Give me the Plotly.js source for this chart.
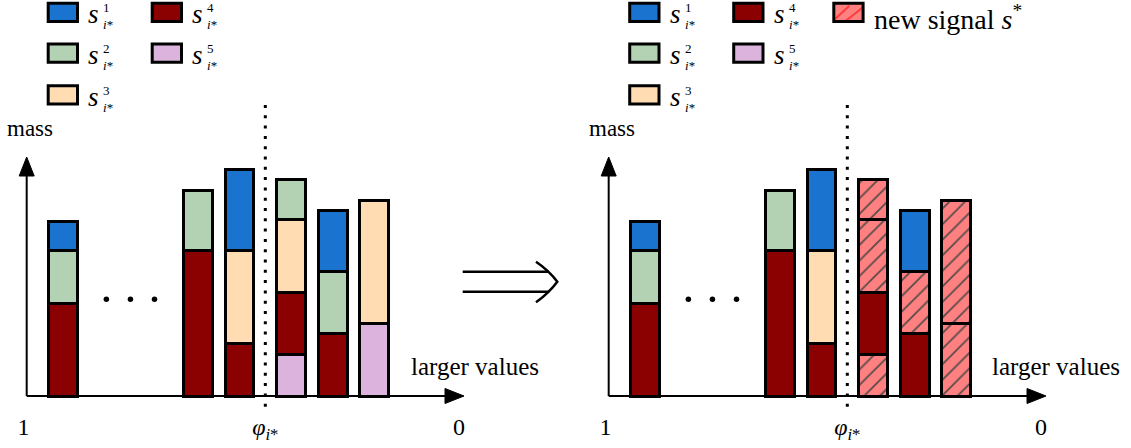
<!DOCTYPE html>
<html><head><meta charset="utf-8">
<script src="https://cdn.plot.ly/plotly-3.0.1.min.js"></script>
<style>html,body{margin:0;padding:0;background:#fff;overflow:hidden}</style>
</head><body><div id="chart" style="width:1131px;height:448px"></div>
<script>
// ================= DATA =================
const seriesIndex  = [1, 2, 3, 4, 5];                       // s^k_{i*}
const seriesColors = ['#1a74cf', '#b3d2b3', '#ffdcb1', '#8b0000', '#dbb3dc'];
const barPos = [0, 3.25, 4.25, 5.5, 6.5, 7.5];              // positions along "value" axis
const phiPos = 4.875;                                        // threshold phi_{i*}
const s1 = [2.9, null, 8.1, null, 6.1, null];
const s2 = [5.3, 6.0, null, 4.0, 6.2, null];
const s3 = [null, null, 9.3, 7.3, null, 12.3];
const s4 = [9.3, 14.6, 5.3, 6.2, 6.3, null];
const s5 = [null, null, null, 4.2, null, 7.3];
const newSignalReplaces = [2, 3, 5];                         // replaced by s* right of phi
const tickVals = [-0.95, phiPos, 9.54];
const tickText = ['1', '<i>φ</i><sub><i>i</i>*</sub>', '0'];
const legendColumns = [[0, 1, 2], [3, 4]];
const newSignalLabel = 'new signal <i>s</i><sup>*</sup>';

// ================= LAYOUT CONSTANTS =================
const W = 1131, H = 448;
const U = 41.5;                 // px per x unit
const ORIGIN = [63, 645];       // px of barPos 0 in left / right panel
const BASE = 396, M = 10;       // baseline px, px per mass unit
const SERIF = 'Liberation Serif, Times New Roman, serif';
const HATCH_BG = '#ff8080', HATCH_FG = '#ff3b3b';
const axisX0 = -0.875, arrowTip = 9.663, arrowLen = 19, arrowHalf = 7.5;
const yAxisTop = 23.9;
const seriesValues = [s1, s2, s3, s4, s5];
const stackOrder = [4, 3, 2, 1, 0];

const px2x = p => p / W, py2y = p => 1 - p / H;

// ================= TRACES =================
const traces = [];
['x', 'x2'].forEach((xa, pi) => {
  const isRight = pi === 1;
  stackOrder.forEach(k => {
    const repl = isRight && newSignalReplaces.includes(seriesIndex[k]);
    traces.push({
      type: 'bar', x: barPos, y: seriesValues[k], xaxis: xa, yaxis: 'y',
      name: 's' + seriesIndex[k], width: 0.69, hoverinfo: 'skip', showlegend: false,
      marker: {
        color: barPos.map(p => (repl && p > phiPos) ? HATCH_BG : seriesColors[k]),
        line: {color: '#000', width: 3},
        pattern: {
          shape: barPos.map(p => (repl && p > phiPos) ? '/' : ''),
          fillmode: 'overlay', fgcolor: HATCH_FG, fgopacity: 0.9, size: 11, solidity: 0.16
        }
      }
    });
  });
  // threshold line
  traces.push({type: 'scatter', mode: 'lines', x: [phiPos, phiPos], y: [29.1, -1.4],
    xaxis: xa, yaxis: 'y', cliponaxis: false, hoverinfo: 'skip', showlegend: false,
    line: {color: '#000', width: 3, dash: '3px,7.3px'}});
  // ellipsis between first bar and the rest
  const c = (barPos[0] + barPos[1]) / 2;
  traces.push({type: 'scatter', mode: 'markers', x: [c - 0.58, c, c + 0.58], y: [9.67, 9.67, 9.67],
    xaxis: xa, yaxis: 'y', hoverinfo: 'skip', showlegend: false,
    marker: {color: '#000', size: 5.5}});
});

// ================= SHAPES & ANNOTATIONS =================
const shapes = [], annotations = [];
function txt(px, baseline, text, size, extra) {
  annotations.push(Object.assign({xref: 'paper', yref: 'paper', x: px2x(px),
    y: py2y(baseline - 0.3375 * size), xanchor: 'left', yanchor: 'middle',
    text: text, showarrow: false, borderpad: 0, borderwidth: 0, align: 'left',
    font: {family: SERIF, size: size, color: '#000'}}, extra || {}));
}
function rect(x0, y0, x1, y1, fill, lw) {
  shapes.push({type: 'rect', xref: 'paper', yref: 'paper', x0: px2x(x0), x1: px2x(x1),
    y0: py2y(y1), y1: py2y(y0), fillcolor: fill, line: {color: '#000', width: lw}});
}

['x', 'x2'].forEach((xa, pi) => {
  const off = pi * 581.5;
  // axes
  shapes.push({type: 'line', xref: xa, yref: 'y', x0: axisX0, x1: arrowTip - arrowLen / U, y0: 0, y1: 0,
    line: {color: '#000', width: 2}});
  shapes.push({type: 'line', xref: xa, yref: 'y', x0: axisX0, x1: axisX0, y0: 0, y1: yAxisTop - arrowLen / M,
    line: {color: '#000', width: 2}});
  shapes.push({type: 'path', xref: xa, yref: 'y', xsizemode: 'pixel', ysizemode: 'pixel',
    xanchor: arrowTip, yanchor: 0,
    path: `M0,0 L${-arrowLen},${arrowHalf} L${-arrowLen},${-arrowHalf} Z`,
    fillcolor: '#000', line: {color: '#000', width: 1}});
  shapes.push({type: 'path', xref: xa, yref: 'y', xsizemode: 'pixel', ysizemode: 'pixel',
    xanchor: axisX0, yanchor: yAxisTop,
    path: `M0,0 L${-arrowHalf},${-arrowLen} L${arrowHalf},${-arrowLen} Z`,
    fillcolor: '#000', line: {color: '#000', width: 1}});
  // text labels
  txt(7 + off, 136, 'mass', 23);
  txt(410.5 + off, 375, 'larger values', 25);
  // legend
  const colLeft = [46.7, 150.7], rowTop = [1.7, 42.6, 84.3];
  legendColumns.forEach((col, ci) => {
    col.forEach((k, ri) => {
      const x0 = colLeft[ci] + off, y0 = rowTop[ri];
      rect(x0 + 1.5, y0 + 1.5, x0 + 30.8, y0 + 19.7, seriesColors[k], 3);
      txt(x0 + 41.5, y0 + 21.6, '<i>s</i>', 27);
      annotations.push({xref: 'paper', yref: 'paper', x: px2x(x0 + 56.5), y: py2y(y0 - 1.2),
        xanchor: 'left', yanchor: 'top', align: 'left', showarrow: false,
        borderpad: 0, borderwidth: 0,
        text: String(seriesIndex[k]) + '<br><i>i</i>*',
        font: {family: SERIF, size: 13, color: '#000'}});
    });
  });
});
// new signal legend entry (right panel)
{
  const x0 = 832.3, y0 = 1.7;
  rect(x0 + 1.5, y0 + 1.5, x0 + 30.8, y0 + 19.7, HATCH_BG, 0);
  [[x0 + 3, y0 + 17, x0 + 17, y0 + 4], [x0 + 13, y0 + 19.5, x0 + 30, y0 + 6]].forEach(l => {
    shapes.push({type: 'line', xref: 'paper', yref: 'paper', x0: px2x(l[0]), y0: py2y(l[1]),
      x1: px2x(l[2]), y1: py2y(l[3]), line: {color: HATCH_FG, width: 2}});
  });
  rect(x0 + 1.5, y0 + 1.5, x0 + 30.8, y0 + 19.7, 'rgba(0,0,0,0)', 3);
  annotations.push({xref: 'paper', yref: 'paper', x: px2x(874), y: 1, xanchor: 'left', yanchor: 'top',
    text: newSignalLabel, showarrow: false, borderpad: 0, borderwidth: 0,
    font: {family: SERIF, size: 28, color: '#000'}});
}
// implication arrow between the panels
[271.7, 291.7].forEach(y => shapes.push({type: 'line', xref: 'paper', yref: 'paper',
  x0: px2x(462.7), x1: px2x(549), y0: py2y(y), y1: py2y(y), line: {color: '#000', width: 2.5}}));
shapes.push({type: 'path', xref: 'paper', yref: 'paper',
  path: `M${px2x(536)},${py2y(261.7)} Q${px2x(549)},${py2y(270.5)} ${px2x(557.3)},${py2y(281.7)} ` +
        `Q${px2x(549)},${py2y(292.9)} ${px2x(536)},${py2y(302.3)}`,
  line: {color: '#000', width: 2.5}});

// ================= AXES =================
const xCommon = {
  anchor: 'free', position: 1 - BASE / H, domain: [0, 1],
  showgrid: false, zeroline: false, showline: false, ticks: '',
  tickmode: 'array', tickvals: tickVals, ticktext: tickText, ticklabelstandoff: 14,
  tickfont: {family: SERIF, size: 24, color: '#000'}, fixedrange: true
};
const layout = {
  width: W, height: H, margin: {l: 0, r: 0, t: 0, b: 0, pad: 0},
  paper_bgcolor: '#fff', plot_bgcolor: 'rgba(0,0,0,0)',
  barmode: 'stack', showlegend: false,
  xaxis: Object.assign({}, xCommon, {range: [-ORIGIN[0] / U, (W - ORIGIN[0]) / U]}),
  xaxis2: Object.assign({}, xCommon, {overlaying: 'x', range: [-ORIGIN[1] / U, (W - ORIGIN[1]) / U]}),
  yaxis: {range: [(BASE - H) / M, BASE / M], domain: [0, 1], visible: false, fixedrange: true},
  shapes: shapes, annotations: annotations
};
Plotly.newPlot('chart', traces, layout, {staticPlot: true, displayModeBar: false});
</script>
</body></html>
